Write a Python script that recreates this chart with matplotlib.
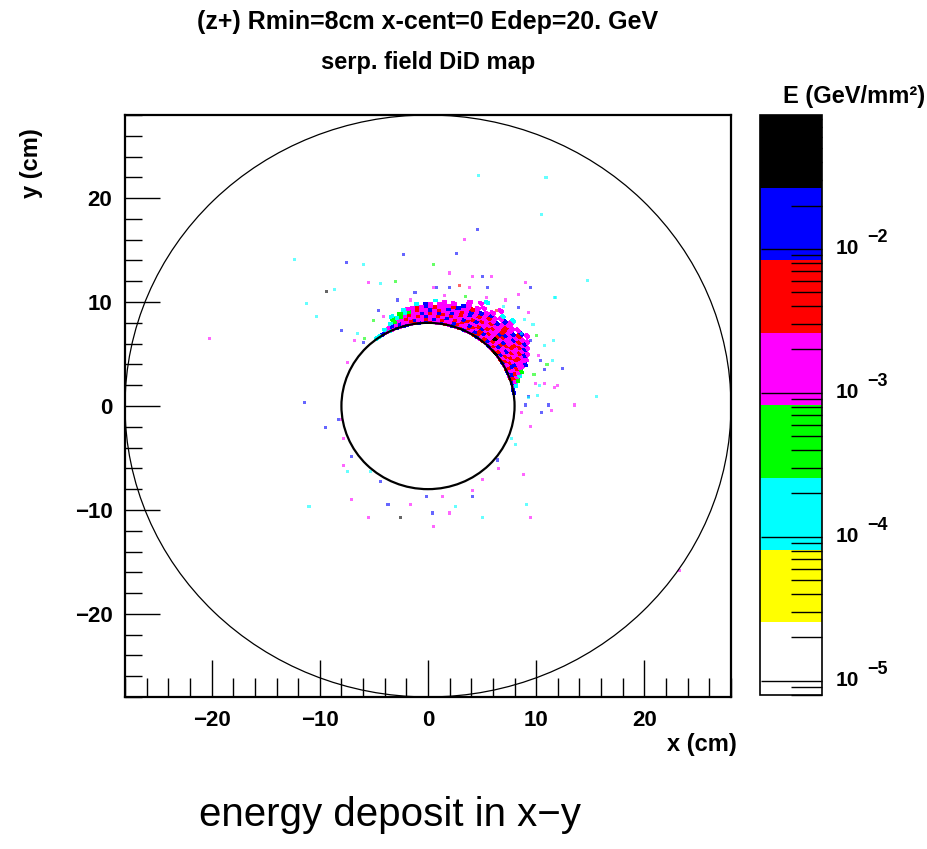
import numpy as np
import matplotlib
matplotlib.use("Agg")
import matplotlib.pyplot as plt
from matplotlib.colors import ListedColormap, LogNorm
from matplotlib.ticker import LogLocator, NullFormatter, MultipleLocator
from matplotlib.patches import Circle

plt.rcParams['font.family'] = ['Liberation Sans', 'DejaVu Sans']
plt.rcParams['font.weight'] = 'bold'

# ---------------- data ----------------
title_lines = ["(z+) Rmin=8cm x-cent=0 Edep=20. GeV", "serp. field DiD map"]
x_label = "x (cm)"
y_label = "y (cm)"
cbar_title = "E (GeV/mm²)"
bottom_text = "energy deposit in x−y"

x_range = (-28.0, 28.0)
y_range = (-28.0, 28.0)
r_inner = 8.0
r_outer = 28.0
xticks_major = [-20, -10, 0, 10, 20]
yticks_major = [-20, -10, 0, 10, 20]

# colour bands of the palette (log10 E limits) and their colours
log_e_min = -5.1
log_e_max = -1.07
band_colors = ['white', '#ffff00', '#00ffff', '#00ff00', '#ff00ff', '#ff0000', '#0000ff', '#000000']
cbar_ticks = [1e-5, 1e-4, 1e-3, 1e-2]
cbar_tick_exp = ['−5', '−4', '−3', '−2']

# representative energy (GeV/mm^2) of each colour code
code_values = {'y': 4.5e-5, 'c': 1.4e-4, 'g': 4.6e-4, 'm': 1.5e-3,
               'r': 4.7e-3, 'b': 1.5e-2, 'k': 4.8e-2}

# dense crescent: polar cells, 2.5 deg sectors starting at 7.5 deg,
# 0.3 cm rings starting at r = 7.9 cm (row 0 = innermost ring)
sector_start_deg = 7.5
sector_width_deg = 2.5
ring_start_cm = 7.9
ring_width_cm = 0.3
crescent_rings = [
    "bbmbrmbrmb" "rmkrmbmrmb" "rmmbrmbmrb" "mmrbmbrmbb" "mbmcmbcc",
    "..cmrbmrmr" "mbrmrmbrmr" "bmrmmrbmmr" "mbmrmmbrmm" "bmbmc...",
    "...gmrmbrm" "rmmbmrmmbr" "mrbmrmrmbm" "rmmbmrmmrm" "mgc.....",
    "....cmrbmr" "mbmrmkmrmb" "rmmrbmmrmr" "bmrmbmmrmg" "cg......",
    ".....gmmrm" "rmrbmrmmrm" "mbrmmrmbmm" "rmbmmrmgcg" ".c......",
    "......mmrm" "mrmmrbmrmm" "rmmbmrmmbm" "mrmbmrmmc." "........",
    "......bmmr" "mrmmbrmmrm" "mrmbmmbrmm" "m.mb.c...." "........",
    ".......mbm" "rmbmmrmbmr" "mbmrmb.m.m" ".c........" "........",
    "........mb" "mrmbmrm.mb" "m.m.m....." ".........." "........",
    ".........m" "bmr.mmbm.m" ".m..m....." ".........." "........",
    ".........." "m.bm.m.c.." "..m......." ".........." "........",
    ".........." ".m...c..m." ".c........" ".........." "........",
]

# isolated deposits outside the crescent: (x cm, y cm, colour code)
scatter_pts = [
    (4.7, 22.2, 'c'), (10.9, 22.0, 'c'), (10.5, 18.4, 'c'), (4.6, 17.0, 'b'), (3.4, 16.0, 'm'), (2.6, 14.7, 'b'),
    (-2.3, 14.6, 'b'), (0.5, 13.6, 'g'), (-6.0, 13.6, 'c'), (-12.3, 14.1, 'c'), (-3.0, 12.0, 'g'), (-9.4, 11.0, 'k'),
    (14.7, 12.1, 'c'), (9.0, 11.9, 'm'), (11.8, 10.4, 'c'), (2.0, 12.8, 'm'), (4.1, 12.5, 'm'), (5.0, 12.5, 'b'),
    (5.9, 12.5, 'm'), (0.8, 11.4, 'b'), (-1.2, 10.9, 'b'), (-4.4, 11.8, 'c'), (-5.5, 11.9, 'm'), (-8.6, 11.2, 'c'),
    (2.9, 11.6, 'r'), (3.8, 11.4, 'm'), (5.5, 11.4, 'b'), (9.5, 11.4, 'b'), (8.4, 10.7, 'm'), (-11.2, 9.9, 'c'),
    (-8.0, 7.3, 'b'), (-10.3, 8.6, 'c'), (-6.8, 6.3, 'm'), (-6.0, 6.1, 'b'), (-5.9, 6.5, 'g'), (-7.4, 4.2, 'm'),
    (-11.4, 0.3, 'b'), (-9.5, -2.1, 'b'), (-8.0, -1.3, 'm'), (7.7, 7.6, 'm'), (9.5, 6.3, 'b'), (10.2, 4.9, 'm'),
    (10.8, 3.5, 'b'), (9.9, 2.2, 'm'), (9.3, 0.9, 'b'), (11.4, -0.4, 'm'), (10.5, -0.6, 'b'), (9.5, -2.0, 'm'),
    (7.7, -3.1, 'c'), (11.7, 10.4, 'c'), (9.3, 9.0, 'm'), (8.4, 9.5, 'b'), (7.2, 10.2, 'm'), (6.3, 9.2, 'r'),
    (5.4, 10.4, 'm'), (2.0, 11.4, 'b'), (0.5, 11.4, 'm'), (-1.6, 10.2, 'm'), (-2.8, 10.2, 'b'), (-4.1, 8.6, 'm'),
    (-4.6, 9.2, 'b'), (8.6, 7.0, 'c'), (10.4, 4.4, 'b'), (10.8, 2.2, 'm'), (11.1, 0.1, 'b'), (8.6, -0.6, 'm'),
    (9.3, 0.8, 'c'), (11.7, 1.8, 'm'), (11.5, 4.4, 'c'), (-8.3, -1.3, 'b'), (-7.8, -3.1, 'm'), (-7.1, -4.9, 'b'),
    (-7.8, -5.7, 'm'), (-7.4, -6.3, 'c'), (-5.3, -6.3, 'c'), (-4.4, -7.3, 'b'), (-7.1, -9.0, 'm'), (-11.0, -9.7, 'c'),
    (-3.7, -9.5, 'b'), (-2.5, -10.7, 'k'), (-5.5, -10.7, 'm'), (-1.6, -9.5, 'm'), (-0.1, -8.7, 'b'), (1.3, -8.7, 'm'),
    (0.4, -10.3, 'b'), (2.0, -10.3, 'm'), (2.5, -9.7, 'c'), (4.1, -8.1, 'm'), (4.1, -8.7, 'b'), (5.0, -7.1, 'm'),
    (6.4, -5.2, 'b'), (6.5, -6.0, 'm'), (5.0, -10.7, 'c'), (0.5, -11.6, 'm'), (8.8, -6.6, 'm'), (9.1, -9.5, 'c'),
    (9.5, -10.7, 'm'), (9.0, 0.1, 'b'), (13.5, 0.1, 'm'), (15.6, 0.9, 'c'), (-20.2, 6.5, 'm'), (-7.5, 13.8, 'b'),
    (23.2, -15.8, 'm'), (8.1, -3.7, 'c'), (10.3, 2.0, 'c'), (10.8, 5.8, 'c'), (10.0, 6.8, 'g'), (9.7, 7.8, 'c'),
    (11.0, 4.0, 'g'), (8.9, 8.3, 'c'), (7.0, 9.6, 'c'), (10.1, 1.0, 'c'), (9.8, 3.0, 'g'), (11.6, 6.3, 'c'),
    (12.4, 3.6, 'b'), (12.0, 2.0, 'm'), (-6.5, 7.0, 'c'), (-5.0, 8.2, 'g'), (1.5, 10.6, 'm'), (3.5, 10.5, 'g'),
]
scatter_x = [p[0] for p in scatter_pts]
scatter_y = [p[1] for p in scatter_pts]
scatter_code = [p[2] for p in scatter_pts]

# ---------------- figure ----------------
W, H = 928, 849
fig = plt.figure(figsize=(W / 100, H / 100), dpi=100)
fig.patch.set_facecolor('white')

ax = fig.add_axes([125 / W, 1 - 697 / H, 606 / W, 582 / H])
cax = fig.add_axes([760 / W, 1 - 695 / H, 62 / W, 580 / H])

cmap = ListedColormap(band_colors)
norm = LogNorm(vmin=10 ** log_e_min, vmax=10 ** log_e_max)

# crescent cells
n_rings = len(crescent_rings)
n_sect = max(len(s) for s in crescent_rings)
vals = np.full((n_rings, n_sect), np.nan)
for i, row in enumerate(crescent_rings):
    for j, ch in enumerate(row):
        if ch in code_values:
            vals[i, j] = code_values[ch]
th_edges = np.deg2rad(sector_start_deg + sector_width_deg * np.arange(n_sect + 1))
r_edges = ring_start_cm + ring_width_cm * np.arange(n_rings + 1)
TH, R = np.meshgrid(th_edges, r_edges)
mesh = ax.pcolormesh(R * np.cos(TH), R * np.sin(TH), np.ma.masked_invalid(vals),
                     cmap=cmap, norm=norm, shading='flat', zorder=2, antialiased=False)

# isolated deposits
sc_vals = [code_values[c] for c in scatter_code]
ax.scatter(scatter_x, scatter_y, c=sc_vals, cmap=cmap, norm=norm,
           marker='s', s=5, linewidths=0, alpha=0.6, zorder=2)

# circles
ax.add_patch(Circle((0, 0), r_outer, fill=False, lw=0.9, ec='black', zorder=3))
ax.add_patch(Circle((0, 0), r_inner, fill=False, lw=1.6, ec='black', zorder=3))

ax.set_xlim(*x_range)
ax.set_ylim(*y_range)
for sp in ax.spines.values():
    sp.set_linewidth(1.6)
ax.set_xticks(xticks_major)
ax.set_yticks(yticks_major)
ax.set_xticklabels([str(v).replace('-', '−') for v in xticks_major])
ax.set_yticklabels([str(v).replace('-', '−') for v in yticks_major])
ax.xaxis.set_minor_locator(MultipleLocator(2))
ax.yaxis.set_minor_locator(MultipleLocator(2))
ax.tick_params(axis='x', which='major', direction='in', length=27, width=1.0,
               labelsize=16, pad=9, top=False)
ax.tick_params(axis='x', which='minor', direction='in', length=14, width=1.0, top=False)
ax.tick_params(axis='y', which='major', direction='in', length=25, width=1.0,
               labelsize=16, pad=9, right=False)
ax.tick_params(axis='y', which='minor', direction='in', length=12, width=1.0, right=False)
for lab in ax.get_xticklabels() + ax.get_yticklabels():
    lab.set_fontweight('bold')

# colour bar
cb = fig.colorbar(mesh, cax=cax)
cb.outline.set_linewidth(1.2)
cax.yaxis.set_ticks_position('right')
cax.yaxis.set_major_locator(LogLocator(base=10, subs=(1.0,)))
cax.yaxis.set_minor_locator(LogLocator(base=10, subs=np.arange(2, 10)))
cax.yaxis.set_minor_formatter(NullFormatter())
cax.set_yticks(cbar_ticks)
cax.set_yticklabels([''] * len(cbar_ticks))
cax.tick_params(which='major', direction='in', length=44, width=1.0, pad=0)
cax.tick_params(which='minor', direction='in', length=22, width=1.0)
cax.set_ylim(10 ** log_e_min, 10 ** log_e_max)
for v, e in zip(cbar_ticks, cbar_tick_exp):
    cax.text(1.22, v, "10", transform=cax.get_yaxis_transform(), fontsize=15,
             fontweight='bold', ha='left', va='center')
    cax.annotate(e, xy=(1.22, v), xycoords=cax.get_yaxis_transform(),
                 xytext=(23, 8), textcoords='offset points', fontsize=13,
                 fontweight='bold', ha='left', va='center')

# texts
fig.text(428 / W, 1 - 22 / H, title_lines[0], ha='center', va='center', fontsize=18, fontweight='bold')
fig.text(428 / W, 1 - 63 / H, title_lines[1], ha='center', va='center', fontsize=17, fontweight='bold')
fig.text(925 / W, 1 - 97 / H, cbar_title, ha='right', va='center', fontsize=17, fontweight='bold')
fig.text(737 / W, 1 - 745 / H, x_label, ha='right', va='center', fontsize=17, fontweight='bold')
fig.text(32 / W, 1 - 128 / H, y_label, ha='center', va='top', rotation=90, fontsize=17, fontweight='bold')
fig.text(390 / W, 1 - 815 / H, bottom_text, ha='center', va='center', fontsize=29, fontweight='normal')

fig.savefig("out.png", dpi=100, facecolor='white')
